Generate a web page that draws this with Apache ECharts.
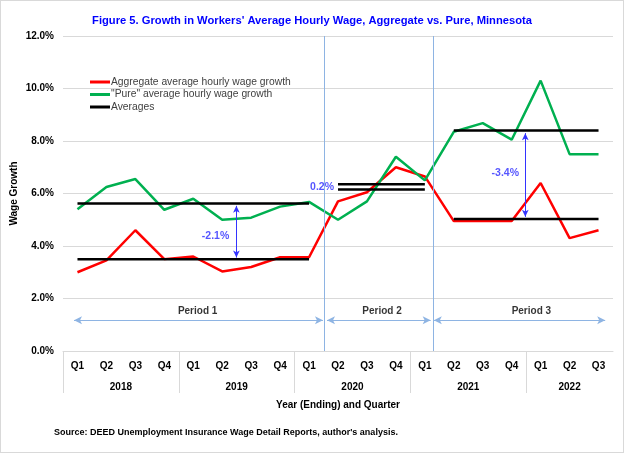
<!DOCTYPE html>
<html>
<head>
<meta charset="utf-8">
<script src="https://cdn.jsdelivr.net/npm/echarts@6/dist/echarts.min.js"></script>
<style>
html,body{margin:0;padding:0;background:#fff;}
#c{width:624px;height:453px;box-sizing:border-box;border:1px solid #d9d9d9;}
</style>
</head>
<body>
<div id="c"></div>
<script>
// ---- data ----
const quarters = ['Q1','Q2','Q3','Q4','Q1','Q2','Q3','Q4','Q1','Q2','Q3','Q4','Q1','Q2','Q3','Q4','Q1','Q2','Q3'];
const years = ['2018','2019','2020','2021','2022'];
const yearSizes = [4,4,4,4,3];
const aggregate = [3.00,3.45,4.60,3.50,3.60,3.03,3.20,3.57,3.57,5.70,6.05,7.00,6.65,4.95,4.95,4.95,6.40,4.30,4.60];
const pure      = [5.40,6.25,6.55,5.38,5.80,5.00,5.08,5.50,5.68,5.00,5.70,7.40,6.50,8.35,8.68,8.05,10.30,7.50,7.50];
const periodStart = [0,9,13];
const periodEnd   = [8,12,18];
const aggAvg  = [3.50,6.35,5.03];
const pureAvg = [5.62,6.15,8.40];
const periodLabels = ['Period 1','Period 2','Period 3'];
const diffLabels = ['-2.1%','0.2%','-3.4%'];

// ---- layout for annotations (positions on the hidden value axis) ----
const FONT = '"Liberation Sans",Arial,sans-serif';
const vLines = [8.53, 12.28];
const periodArrowX = [[-0.12,8.48],[8.62,12.2],[12.31,18.23]];
const periodArrowY = 1.17;
const periodLabelX = [4.15,10.52,15.68];
const periodLabelY = 1.5;
const diffArrows = [[5.49,5.53,3.56],[15.47,8.30,5.11]];
const diffLabelPos = [[4.77,4.36],[8.45,6.25],[14.78,6.78]];

// derived
const yearCenters = [];
const yearBounds = [-0.5];
let acc = -0.5;
yearSizes.forEach((s,i)=>{ yearCenters.push(acc + s/2); acc += s; if(i<yearSizes.length-1) yearBounds.push(acc); });

function avgSeries(vals){
  return periodStart.map((s,i)=>{
    const d = quarters.map((q,j)=> (j>=s && j<=periodEnd[i]) ? vals[i] : null);
    return {name:'Averages', type:'line', xAxisIndex:0, data:d, symbol:'none',
      lineStyle:{color:'#000', width:2.5}, itemStyle:{color:'#000'}, z:3, connectNulls:false};
  });
}

const chart = echarts.init(document.getElementById('c'), null, {renderer:'canvas'});
const option = {
  animation:false,
  title:{text:"Figure 5. Growth in Workers' Average Hourly Wage, Aggregate vs. Pure, Minnesota",
    left:'center', top:9, textStyle:{color:'#0000ff', fontSize:11.2, fontWeight:'bold', fontFamily:FONT}},
  legend:{data:['Aggregate average hourly wage growth','"Pure" average hourly wage growth','Averages'],
    orient:'vertical', left:84, top:70, itemWidth:20, itemHeight:3, itemGap:0.5, icon:'rect',
    textStyle:{color:'#404040', fontSize:10.3, fontFamily:FONT, lineHeight:12, padding:[0,0,0,-4]}},
  grid:{left:62, right:10, top:35, bottom:101, containLabel:false, outerBoundsMode:'none'},
  xAxis:[
    {type:'category', data:quarters, position:'bottom',
      axisLine:{lineStyle:{color:'#d9d9d9'}}, axisTick:{show:false},
      axisLabel:{color:'#000', fontWeight:'bold', fontSize:10, fontFamily:FONT, margin:10, interval:0}},
    {type:'value', min:-0.5, max:18.5, position:'bottom',
      axisLine:{show:false}, splitLine:{show:false},
      axisTick:{show:true, customValues:yearBounds, length:42, lineStyle:{color:'#d9d9d9'}},
      axisLabel:{show:true, customValues:yearCenters, margin:31, color:'#000', fontWeight:'bold', fontSize:10, fontFamily:FONT,
        formatter:(v)=>{ const k = yearCenters.indexOf(v); return k>=0 ? years[k] : ''; }},
      name:'Year (Ending) and Quarter', nameLocation:'middle', nameGap:49, nameMoveOverlap:false,
      nameTextStyle:{color:'#000', fontWeight:'bold', fontSize:10, fontFamily:FONT}}
  ],
  yAxis:{type:'value', min:0, max:12, interval:2,
    axisLine:{show:false}, axisTick:{show:false},
    splitLine:{lineStyle:{color:'#d9d9d9'}},
    axisLabel:{color:'#000', fontWeight:'bold', fontSize:10, fontFamily:FONT, margin:9, formatter:(v)=>v.toFixed(1)+'%'},
    name:'Wage Growth', nameLocation:'middle', nameGap:44, nameRotate:90, nameMoveOverlap:false,
    nameTextStyle:{color:'#000', fontWeight:'bold', fontSize:10, fontFamily:FONT}},
  graphic:[{type:'text', left:53, top:427, style:{text:"Source: DEED Unemployment Insurance Wage Detail Reports, author's analysis.",
    fill:'#000', font:'bold 9px '+FONT}}],
  series:[
    {name:'Aggregate average hourly wage growth', type:'line', xAxisIndex:0, data:aggregate, symbol:'none',
      lineStyle:{color:'#ff0000', width:2.5}, itemStyle:{color:'#ff0000'}, z:2},
    {name:'"Pure" average hourly wage growth', type:'line', xAxisIndex:0, data:pure, symbol:'none',
      lineStyle:{color:'#00b050', width:2.5}, itemStyle:{color:'#00b050'}, z:2},
    ...avgSeries(pureAvg),
    ...avgSeries(aggAvg),
    {type:'line', xAxisIndex:1, data:[], silent:true,
      markLine:{silent:true, symbol:['none','none'], label:{show:false},
        lineStyle:{color:'#8eb4e3', width:1, type:'solid'},
        data: vLines.map(x=>[{coord:[x,0]},{coord:[x,12]}])}},
    {type:'line', xAxisIndex:1, data:[], silent:true,
      markLine:{silent:true, symbol:['arrow','arrow'], symbolSize:[6,8], label:{show:false},
        lineStyle:{color:'#8eb4e3', width:1.2, type:'solid'},
        data: periodArrowX.map(p=>[{coord:[p[0],periodArrowY]},{coord:[p[1],periodArrowY]}])}},
    {type:'line', xAxisIndex:1, data:[], silent:true,
      markLine:{silent:true, symbol:['arrow','arrow'], symbolSize:[5,7], label:{show:false},
        lineStyle:{color:'#3333ff', width:1, type:'solid'},
        data: diffArrows.map(p=>[{coord:[p[0],p[1]]},{coord:[p[0],p[2]]}])}},
    {type:'scatter', xAxisIndex:1, silent:true, symbolSize:1, itemStyle:{color:'rgba(0,0,0,0)'},
      label:{show:true, position:'inside', formatter:(p)=>p.data.t, color:'#000', fontWeight:'bold', fontSize:10, fontFamily:FONT},
      data: periodLabels.map((t,i)=>({value:[periodLabelX[i],periodLabelY], t:t}))},
    {type:'scatter', xAxisIndex:1, silent:true, symbolSize:1, itemStyle:{color:'rgba(0,0,0,0)'},
      label:{show:true, position:'inside', formatter:(p)=>p.data.t, color:'#2b2bff', fontWeight:'bold', fontSize:10.5, fontFamily:FONT},
      data: diffLabels.map((t,i)=>({value:diffLabelPos[i], t:t}))}
  ]
};
chart.setOption(option);
</script>
</body>
</html>
